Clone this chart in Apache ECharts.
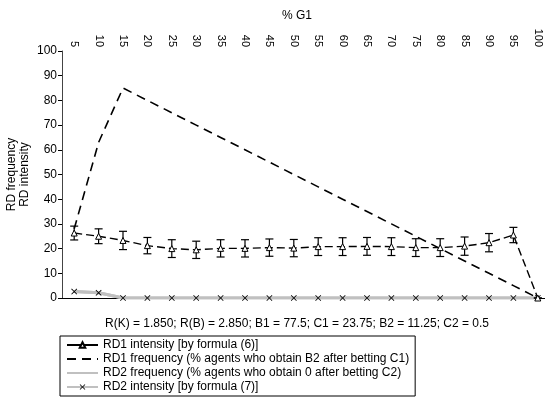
<!DOCTYPE html>
<html>
<head>
    <meta charset="utf-8">
    <title>RD chart</title>
    <script src="https://cdn.jsdelivr.net/npm/echarts@6/dist/echarts.min.js"></script>
    <style>
        html, body { margin: 0; padding: 0; background: #fff; }
        #chart { width: 545px; height: 399px; }
    </style>
</head>
<body>
<div id="chart"></div>
<script>
    // % G1 categories
    var g1 = ['5', '10', '15', '20', '25', '30', '35', '40', '45', '50',
              '55', '60', '65', '70', '75', '80', '85', '90', '95', '100'];
    var yTicks = [0, 100, 10]; // min, max, step

    var rd1Intensity = [26.3, 25.0, 23.3, 21.2, 20.0, 19.5, 20.1, 20.1, 20.4, 20.2,
                        20.8, 20.8, 20.9, 20.8, 20.4, 20.4, 21.0, 22.4, 25.5, 0];
    var rd1Error = [2.8, 3.0, 3.7, 3.3, 3.6, 3.5, 3.5, 3.5, 3.5, 3.5,
                    3.6, 3.6, 3.6, 3.6, 3.6, 3.6, 3.7, 3.7, 3.1, 0];
    var rd1Frequency = [28, 63, 85, 80, 75, 70, 65, 60, 55, 50,
                        45, 40, 35, 30, 25, 20, 15, 10, 5, 0];
    var rd2Frequency = [2.6, 2.1, 0, 0, 0, 0, 0, 0, 0, 0,
                        0, 0, 0, 0, 0, 0, 0, 0, 0, 0];
    var rd2Intensity = [2.6, 2.1, 0, 0, 0, 0, 0, 0, 0, 0,
                        0, 0, 0, 0, 0, 0, 0, 0, 0, 0];

    var names = [
        'RD1 intensity [by formula (6)]',
        'RD1 frequency (% agents who obtain B2 after betting C1)',
        'RD2 frequency (% agents who obtain 0 after betting C2)',
        'RD2 intensity [by formula (7)]'
    ];

    var crossSymbol = 'path://M1,0L5,4L9,0L10,1L6,5L10,9L9,10L5,6L1,10L0,9L4,5L0,1Z';
    var hiddenMark = { color: 'rgba(0,0,0,0)', borderWidth: 0 };
    var font = 'Liberation Sans, Arial, sans-serif';

    var errData = rd1Intensity.map(function (v, i) {
        return [i, v - rd1Error[i], v + rd1Error[i]];
    });

    var chart = echarts.init(document.getElementById('chart'));

    var option = {
        animation: false,
        backgroundColor: '#fff',
        textStyle: { fontFamily: font },
        title: [
            {
                text: '% G1',
                left: 292, top: 5, textAlign: 'center',
                textStyle: { fontSize: 12, fontWeight: 'normal', color: '#000', fontFamily: font }
            },
            {
                text: 'R(K) = 1.850; R(B) = 2.850; B1 = 77.5; C1 = 23.75; B2 = 11.25; C2 = 0.5',
                left: 292, top: 313, textAlign: 'center',
                textStyle: { fontSize: 12, fontWeight: 'normal', color: '#000', fontFamily: font }
            }
        ],
        grid: { left: 62, right: -5, top: 51, bottom: 101, containLabel: false, outerBoundsMode: 'none' },
        legend: {
            orient: 'vertical',
            left: 60, top: 336,
            padding: [3, 6, 3, 6],
            itemGap: 2,
            itemWidth: 31,
            itemHeight: 7,
            borderColor: '#000',
            borderWidth: 1,
            data: [
                { name: names[0], lineStyle: { type: 'solid' } },
                { name: names[1], itemStyle: hiddenMark },
                { name: names[2], itemStyle: hiddenMark },
                { name: names[3] }
            ],
            textStyle: { fontSize: 12, color: '#000', fontFamily: font }
        },
        xAxis: [
            {
                type: 'category',
                data: g1,
                position: 'top',
                boundaryGap: true,
                axisLine: { lineStyle: { color: '#000', width: 1 } },
                axisTick: { length: 4, lineStyle: { color: '#000' } },
                axisLabel: { rotate: -90, margin: 4, fontSize: 11, color: '#000', fontFamily: font, interval: 0 }
            },
            {
                type: 'category',
                data: g1,
                position: 'bottom',
                axisLine: { lineStyle: { color: '#000', width: 1 } },
                axisTick: { show: false },
                axisLabel: { show: false }
            }
        ],
        yAxis: {
            type: 'value',
            min: yTicks[0], max: yTicks[1], interval: yTicks[2],
            name: 'RD frequency\nRD intensity',
            nameLocation: 'middle',
            nameRotate: 90,
            nameGap: 31,
            nameMoveOverlap: false,
            nameTextStyle: { fontSize: 12, color: '#000', fontFamily: font, lineHeight: 13 },
            axisLine: { show: true, lineStyle: { color: '#444', width: 1 } },
            axisTick: { show: true, length: 4, lineStyle: { color: '#000' } },
            axisLabel: { margin: 5, fontSize: 12, color: '#000', fontFamily: font },
            splitLine: { show: false }
        },
        series: [
            {
                name: names[2],
                type: 'line',
                data: rd2Frequency,
                symbol: 'none',
                lineStyle: { color: '#c0c0c0', width: 3 },
                itemStyle: { color: '#c0c0c0' },
                z: 2
            },
            {
                name: names[3],
                type: 'line',
                data: rd2Intensity,
                symbol: crossSymbol,
                symbolSize: 6,
                lineStyle: { color: '#c0c0c0', width: 3 },
                itemStyle: { color: '#000' },
                z: 3
            },
            {
                name: names[1],
                type: 'line',
                data: rd1Frequency,
                symbol: 'none',
                lineStyle: { color: '#000', width: 1.6, type: [9, 6] },
                itemStyle: { color: '#000' },
                z: 4
            },
            {
                name: 'err',
                type: 'custom',
                data: errData,
                z: 5,
                renderItem: function (params, api) {
                    var lo = api.coord([api.value(0), api.value(1)]);
                    var hi = api.coord([api.value(0), api.value(2)]);
                    var w = 4;
                    var st = { stroke: '#000', lineWidth: 1.2 };
                    return {
                        type: 'group',
                        children: [
                            { type: 'line', shape: { x1: lo[0], y1: lo[1], x2: hi[0], y2: hi[1] }, style: st },
                            { type: 'line', shape: { x1: lo[0] - w, y1: lo[1], x2: lo[0] + w, y2: lo[1] }, style: st },
                            { type: 'line', shape: { x1: hi[0] - w, y1: hi[1], x2: hi[0] + w, y2: hi[1] }, style: st }
                        ]
                    };
                }
            },
            {
                name: names[0],
                type: 'line',
                data: rd1Intensity,
                symbol: 'triangle',
                symbolSize: 6,
                showAllSymbol: true,
                lineStyle: { color: '#000', width: 1.4, type: [8, 4] },
                itemStyle: { color: '#fff', borderColor: '#000', borderWidth: 1 },
                z: 6
            }
        ]
    };
    chart.setOption(option);
</script>
</body>
</html>
